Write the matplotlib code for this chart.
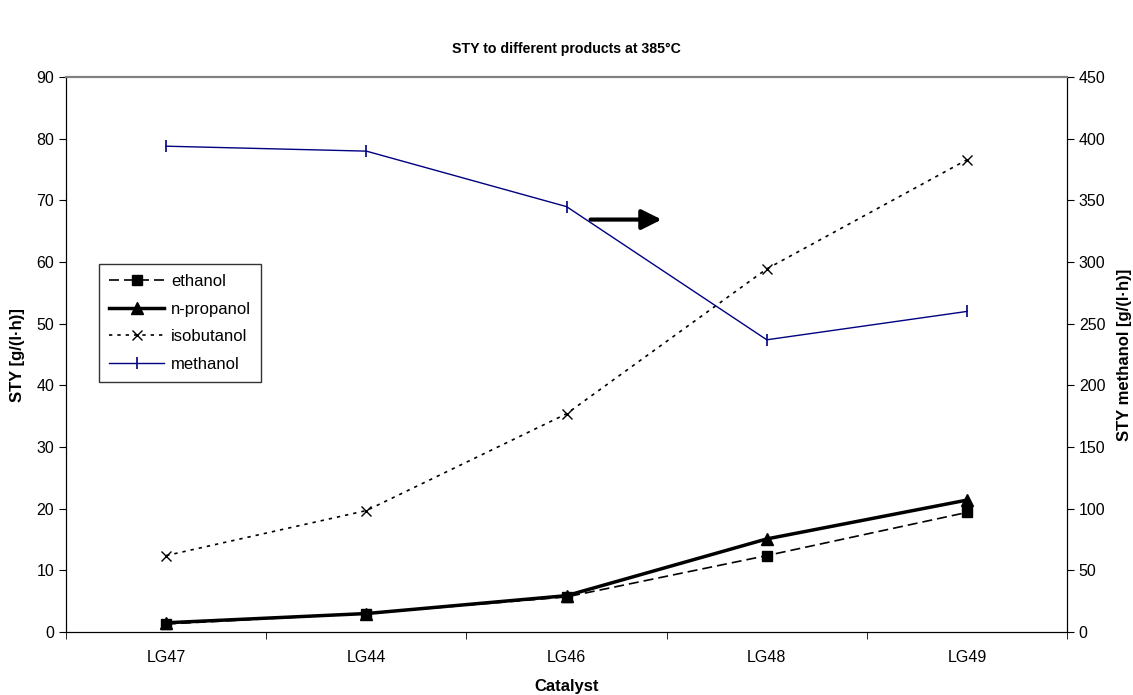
import numpy as np
import matplotlib.pyplot as plt

plt.rcParams['font.family'] = ['Liberation Sans', 'DejaVu Sans']
plt.rcParams['font.size'] = 11.5

catalysts = ['LG47', 'LG44', 'LG46', 'LG48', 'LG49']
ethanol = [1.3, 3.0, 5.7, 12.4, 19.4]
propanol = [1.5, 3.0, 5.9, 15.1, 21.4]
isobutanol = [12.4, 19.7, 35.4, 58.9, 76.6]
methanol = [394, 390, 345, 237, 260]

x = np.arange(len(catalysts))

fig = plt.figure(figsize=(11.33, 6.95), dpi=100)
ax = fig.add_axes([0.0583, 0.0906, 0.8835, 0.7984])
ax2 = ax.twinx()

l1, = ax.plot(x, ethanol, color='black', ls=(0, (6, 3)), lw=1.2, marker='s', ms=6.5, label='ethanol')
l2, = ax.plot(x, propanol, color='black', ls='-', lw=2.5, marker='^', ms=9, label='n-propanol')
l3, = ax.plot(x, isobutanol, color='black', ls=(0, (2, 3)), lw=1.2, marker='x', ms=6.5, mew=1, label='isobutanol')
l4, = ax2.plot(x, methanol, color='#000080', ls='-', lw=1, marker='|', ms=8, mew=1.2, label='methanol')

ax.set_xlim(-0.5, 4.5)
ax.set_ylim(0, 90)
ax.set_yticks(np.arange(0, 91, 10))
ax2.set_ylim(0, 450)
ax2.set_yticks(np.arange(0, 451, 50))

ax.set_xticks(x)
ax.set_xticklabels(catalysts)
ax.set_xticks(np.arange(-0.5, 4.6, 1), minor=True)
ax.tick_params(axis='x', which='major', length=0, pad=13)
ax.tick_params(axis='x', which='minor', length=5, direction='out')
ax.tick_params(axis='y', length=5, direction='out')
ax2.tick_params(axis='y', length=5, direction='out')

for a in (ax, ax2):
    a.spines['top'].set_color('#808080')
    a.spines['top'].set_linewidth(1.5)

ax.set_xlabel('Catalyst', fontweight='bold', fontsize=12, labelpad=10)
ax.set_ylabel('STY [g/(l\u00b7h)]', fontweight='bold', fontsize=12, labelpad=8)
ax2.set_ylabel('STY methanol [g/(l\u00b7h)]', fontweight='bold', fontsize=12, rotation=90, labelpad=8)
fig.suptitle('STY to different products at 385\u00b0C', fontweight='bold', fontsize=10.2, y=0.94)

ax.annotate('', xy=(2.475, 66.9), xytext=(2.12, 66.9),
            arrowprops=dict(arrowstyle='-|>,head_length=0.6,head_width=0.3', mutation_scale=20,
                            color='black', lw=3, shrinkA=0, shrinkB=0))

leg = ax.legend(handles=[l1, l2, l3, l4], loc='upper left', bbox_to_anchor=(0.033, 0.663),
                borderaxespad=0, frameon=True, fancybox=False, edgecolor='black', fontsize=12,
                handlelength=3.3, handletextpad=0.4, labelspacing=0.75, borderpad=0.6)
leg.get_frame().set_linewidth(1)

fig.savefig('out.png', dpi=100)
